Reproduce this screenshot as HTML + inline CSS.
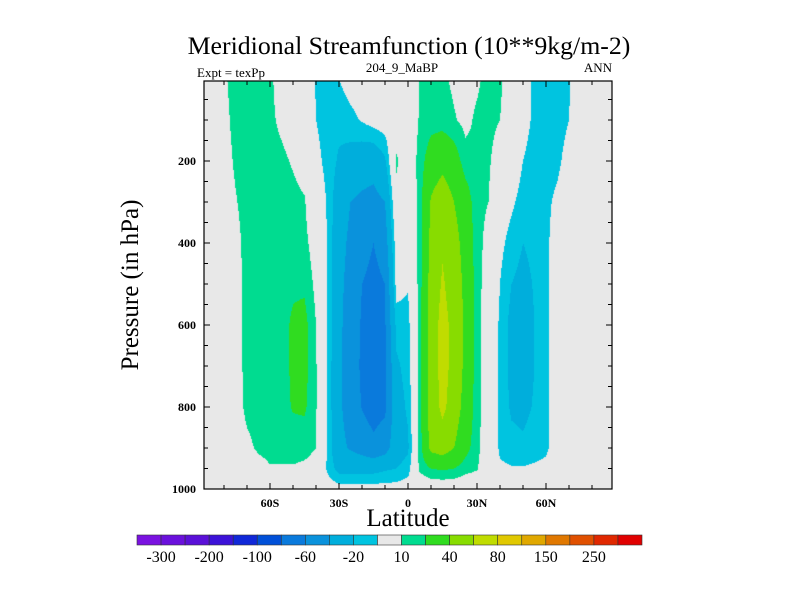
<!DOCTYPE html>
<html><head><meta charset="utf-8"><style>
body{margin:0;background:#fff;width:800px;height:600px;overflow:hidden;position:relative;font-family:"Liberation Serif",serif}
#c{position:absolute;left:204px;top:81px}
svg{position:absolute;left:0;top:0}
</style></head><body>
<canvas id="c" width="408" height="408"></canvas>
<svg id="s" width="800" height="600"></svg>
<script>
const lats=[-90,-85,-80,-75,-70,-65,-60,-55,-50,-45,-40,-35,-30,-25,-20,-15,-10,-5,0,5,10,15,20,25,30,35,40,45,50,55,60,65,70,75,80,85,90];
const plevs=[0,100,200,300,400,500,600,700,800,900,950,1000];
const psi=[
[0,0,0,0,0,0,0,0,0,0,0,0],
[0,0,0,0,0,0,0,0,0,0,0,0],
[8,6,4,2,1,1,1,1,1,0,0,0],
[15,14,12,9,6,5,4,4,4,2,0,0],
[15,15,15,15,14,14,14,14,13,7,0,0],
[14,14,14,14,14,14,15,15,15,12,5,0],
[12,12,13,14,14,15,15,15,15,14,9,0],
[5,8,12,14,15,15,16,16,16,14,9,0],
[3,5,9,13,15,18,22,22,21,14,9,0],
[0,2,5,11,13,18,24,24,22,13,8,0],
[-11,-10,-7,-2,4,7,10,11,11,10,6,0],
[-14,-14,-13,-11,-11,-11,-11,-11,-11,-11,-12,-3],
[-10,-16,-22,-30,-33,-35,-36,-37,-37,-35,-25,-5],
[-5,-13,-26,-40,-44,-47,-49,-50,-48,-42,-25,-5],
[-3,-9,-30,-44,-52,-60,-62,-63,-61,-48,-25,-5],
[-1,-5,-32,-46,-60,-66,-68,-70,-68,-55,-25,-5],
[0,-3,-22,-40,-50,-60,-62,-64,-64,-48,-22,-5],
[0,0,12,5,-2,-5,-16,-22,-26,-28,-20,-5],
[0,0,0,-3,-6,-9,-14,-16,-18,-22,-15,-3],
[10,11,14,14,14,14,15,15,15,14,12,0],
[14,15,28,42,45,48,50,50,50,45,20,0],
[12,15,34,52,58,62,66,66,64,50,22,0],
[8,11,28,40,48,52,55,55,52,40,20,0],
[5,7,14,28,32,35,36,35,32,25,14,0],
[8,12,12,13,14,14,14,14,14,13,11,0],
[14,14,12,10,6,4,2,2,2,2,0,0],
[12,10,2,-3,-7,-10,-12,-12,-12,-12,-8,0],
[3,2,-2,-8,-14,-20,-24,-24,-22,-16,-9,0],
[-5,-6,-10,-14,-20,-24,-26,-25,-23,-18,-9,0],
[-12,-12,-14,-15,-17,-19,-20,-20,-19,-15,-8,0],
[-14,-14,-13,-12,-12,-12,-12,-12,-12,-12,-7,0],
[-14,-14,-12,-8,-5,-5,-5,-5,-5,-4,-2,0],
[-11,-10,-6,-3,-2,-1,-1,-1,-1,-1,0,0],
[-3,-2,-1,0,0,0,0,0,0,0,0,0],
[0,0,0,0,0,0,0,0,0,0,0,0],
[0,0,0,0,0,0,0,0,0,0,0,0],
[0,0,0,0,0,0,0,0,0,0,0,0]];
const levels=[-300,-250,-200,-150,-100,-80,-60,-40,-20,-10,10,20,40,60,80,100,150,200,250,300];
const cbLabels=["-300","-200","-100","-60","-20","10","40","80","150","250"];
const colors=["#7a12e0","#6a10dc","#5a10d8","#3c12d8","#1028d8","#0050d8","#0a7adc","#0a92dc","#00aedc","#00c4e0","#e8e8e8","#00dc90","#30dc20","#88dc00","#c0dc00","#e0c800","#e0a800","#e07800","#e05000","#e02800","#e00000"];
const xTicks=[-60,-30,0,30,60], xLab=["60S","30S","0","30N","60N"];
const yTicks=[200,400,600,800,1000];

const X=lat=>408+lat*2.3, Y=p=>79+p*0.41;
const LAT=x=>(x-408)/2.3, P=y=>(y-79)/0.41;
function interp(lat,p){
  let i=Math.max(0,Math.min(lats.length-2,Math.floor((lat-lats[0])/5)));
  let tx=(lat-lats[i])/(lats[i+1]-lats[i]); tx=Math.max(0,Math.min(1,tx));
  let j=0; while(j<plevs.length-2&&p>plevs[j+1])j++;
  let ty=(p-plevs[j])/(plevs[j+1]-plevs[j]); ty=Math.max(0,Math.min(1,ty));
  const a=psi[i][j],b=psi[i+1][j],c=psi[i][j+1],d=psi[i+1][j+1];
  return a*(1-tx)*(1-ty)+b*tx*(1-ty)+c*(1-tx)*ty+d*tx*ty;
}
function colorOf(v){let k=0;while(k<levels.length&&v>=levels[k])k++;return colors[k];}
function hex(c){return [parseInt(c.slice(1,3),16),parseInt(c.slice(3,5),16),parseInt(c.slice(5,7),16)];}
const cv=document.getElementById('c'),ctx=cv.getContext('2d');
const img=ctx.createImageData(408,408);
for(let yy=0;yy<408;yy++)for(let xx=0;xx<408;xx++){
  const v=interp(LAT(204+xx+0.5),P(81+yy+0.5));const rgb=hex(colorOf(v));
  const o=(yy*408+xx)*4;img.data[o]=rgb[0];img.data[o+1]=rgb[1];img.data[o+2]=rgb[2];img.data[o+3]=255;}
ctx.putImageData(img,0,0);

const s=document.getElementById('s'),NS="http://www.w3.org/2000/svg";
function el(t,a,txt){const e=document.createElementNS(NS,t);for(const k in a)e.setAttribute(k,a[k]);if(txt!=null)e.textContent=txt;s.appendChild(e);return e;}
let e;
e=el('rect',{x:204,y:81,width:408,height:408,fill:'none',stroke:'#000','stroke-width':1.2});


for(let lat=-80;lat<=80;lat+=10){const x=X(lat),maj=lat%30==0,L=maj?6:4;
 e=el('line',{x1:x,y1:489,x2:x,y2:489-L,stroke:'#000'});
 
 
 e=el('line',{x1:x,y1:81,x2:x,y2:81+L,stroke:'#000'});
 
 }
xTicks.forEach((t,i)=>{e=el('text',{x:X(t),y:507,'text-anchor':'middle','font-size':12,'font-weight':'bold'},xLab[i]);
 
 });
for(let p=50;p<=1000;p+=50){const y=Y(p),maj=p%200==0,L=maj?6:4;
 e=el('line',{x1:204,y1:y,x2:204+L,y2:y,stroke:'#000'});
 
 
 e=el('line',{x1:612,y1:y,x2:612-L,y2:y,stroke:'#000'});
 
 }
yTicks.forEach(t=>{e=el('text',{x:196,y:Y(t)+4,'text-anchor':'end','font-size':12,'font-weight':'bold'},String(t));
 
 });
e=el('text',{x:409,y:54,'text-anchor':'middle','font-size':25.8},'Meridional Streamfunction (10**9kg/m-2)');


e=el('text',{x:197,y:77,'font-size':13},'Expt = texPp');


e=el('text',{x:402,y:72,'text-anchor':'middle','font-size':13},'204_9_MaBP');


e=el('text',{x:612,y:72,'text-anchor':'end','font-size':13},'ANN');


e=el('text',{x:408,y:526,'text-anchor':'middle','font-size':25},'Latitude');


e=el('text',{x:138,y:285,'text-anchor':'middle','font-size':25,transform:'rotate(-90 138 285)'},'Pressure (in hPa)');


const cbx=137,cbw=(642-137)/colors.length;
colors.forEach((c,i)=>{e=el('rect',{x:cbx+i*cbw,y:535,width:cbw,height:10,fill:c,stroke:'#333','stroke-width':0.6});
 
 });
cbLabels.forEach((l,i)=>{e=el('text',{x:cbx+(2*i+1)*cbw,y:562,'text-anchor':'middle','font-size':16},l);
 
 });
</script></body></html>
